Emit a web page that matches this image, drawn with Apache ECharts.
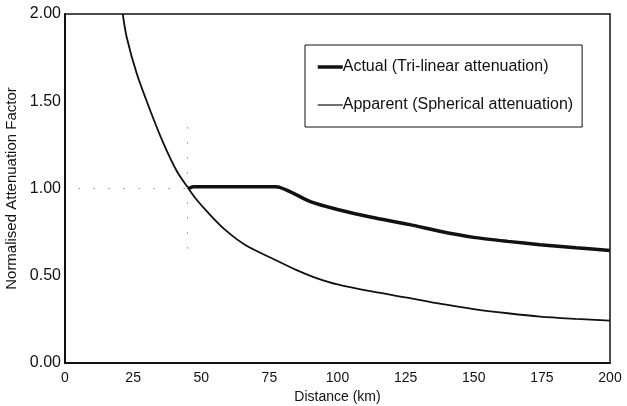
<!DOCTYPE html>
<html>
<head>
<meta charset="utf-8">
<script src="https://cdn.jsdelivr.net/npm/echarts@6/dist/echarts.min.js"></script>
<style>
  html, body { margin: 0; padding: 0; background: #fff; }
  #chart { width: 627px; height: 406px; }
</style>
</head>
<body>
<div id="chart"></div>
<script>
// Distance (km) and attenuation factors for the two models
const actualKm   = [45.3, 47.0, 60.0, 77.5, 90.0, 100.0, 112.5, 126.6, 137.5, 150.0, 162.5, 174.3, 187.5, 200.0];
const actualVal  = [1.00, 1.01, 1.01, 1.01, 0.925, 0.88, 0.835, 0.793, 0.755, 0.72, 0.697, 0.678, 0.66, 0.645];

const apparentKm  = [21.2, 22.6, 26.3, 31.2, 36.1, 41.0, 45.3, 47.7, 52.6, 58.7, 66.0, 77.0, 85.0, 92.0, 100.0, 112.5, 126.6, 137.5, 150.0, 162.5, 174.3, 187.5, 200.0];
const apparentVal = [2.00, 1.87, 1.66, 1.45, 1.26, 1.10, 1.00, 0.947, 0.86, 0.764, 0.678, 0.592, 0.532, 0.488, 0.450, 0.41, 0.372, 0.34, 0.309, 0.285, 0.266, 0.253, 0.243];

const xTicks = [0, 25, 50, 75, 100, 125, 150, 175, 200];
const yTicks = [0.00, 0.50, 1.00, 1.50, 2.00];
const crossoverKm = 45;

const pairs = (xs, ys) => xs.map((x, i) => [x, ys[i]]);
const FONT = "'Liberation Sans', Arial, sans-serif";
const INK = '#111';

const chart = echarts.init(document.getElementById('chart'), null, { renderer: 'canvas' });
chart.setOption({
  animation: false,
  backgroundColor: '#ffffff',
  color: [INK, INK],
  grid: {
    left: 65, right: 17, top: 14, bottom: 43,
    outerBoundsMode: 'none',
    containLabel: false,
    show: true, borderColor: INK, borderWidth: 1.5, backgroundColor: 'transparent'
  },
  legend: {
    orient: 'vertical',
    left: 305, top: 45,
    padding: [14, 9, 14, 11],
    itemGap: 22,
    itemWidth: 25,
    itemHeight: 12,
    borderColor: INK, borderWidth: 1,
    itemStyle: { opacity: 0 },
    textStyle: { fontFamily: FONT, fontSize: 16, color: INK, padding: [0, 0, 0, -5] },
    data: [
      { name: 'Actual (Tri-linear attenuation)', lineStyle: { width: 3.5, color: INK } },
      { name: 'Apparent (Spherical attenuation)', lineStyle: { width: 1.2, color: INK } }
    ]
  },
  xAxis: {
    type: 'value',
    min: xTicks[0], max: xTicks[xTicks.length - 1],
    interval: xTicks[1] - xTicks[0],
    name: 'Distance (km)',
    nameLocation: 'middle',
    nameGap: 21,
    nameTextStyle: { fontFamily: FONT, fontSize: 14, color: INK },
    axisLine: { show: true, lineStyle: { color: INK, width: 2 } },
    axisTick: { show: false },
    splitLine: { show: false },
    axisLabel: { fontFamily: FONT, fontSize: 14, color: INK, margin: 8 }
  },
  yAxis: {
    type: 'value',
    min: yTicks[0], max: yTicks[yTicks.length - 1],
    interval: yTicks[1] - yTicks[0],
    name: 'Normalised Attenuation Factor',
    nameLocation: 'middle',
    nameGap: 44,
    nameTextStyle: { fontFamily: FONT, fontSize: 15, color: INK },
    axisLine: { show: true, lineStyle: { color: INK, width: 2 } },
    axisTick: { show: false },
    splitLine: { show: false },
    axisLabel: {
      fontFamily: FONT, fontSize: 16, color: INK, margin: 4,
      formatter: v => v.toFixed(2)
    }
  },
  series: [
    {
      name: 'Actual (Tri-linear attenuation)',
      type: 'line',
      data: pairs(actualKm, actualVal),
      smooth: 0.2,
      symbol: 'none',
      clip: true,
      lineStyle: { color: INK, width: 3.5 },
      z: 3,
      markLine: {
        silent: true,
        symbol: 'none',
        label: { show: false },
        lineStyle: { color: '#555', width: 1, type: [1, 14] },
        data: [
          [{ coord: [5, 1] }, { coord: [crossoverKm, 1] }],
          [{ coord: [crossoverKm, 1.35] }, { coord: [crossoverKm, 0.62] }]
        ]
      }
    },
    {
      name: 'Apparent (Spherical attenuation)',
      type: 'line',
      data: pairs(apparentKm, apparentVal),
      smooth: 0.3,
      symbol: 'none',
      clip: true,
      lineStyle: { color: INK, width: 1.8 },
      z: 2
    }
  ]
});
</script>
</body>
</html>
